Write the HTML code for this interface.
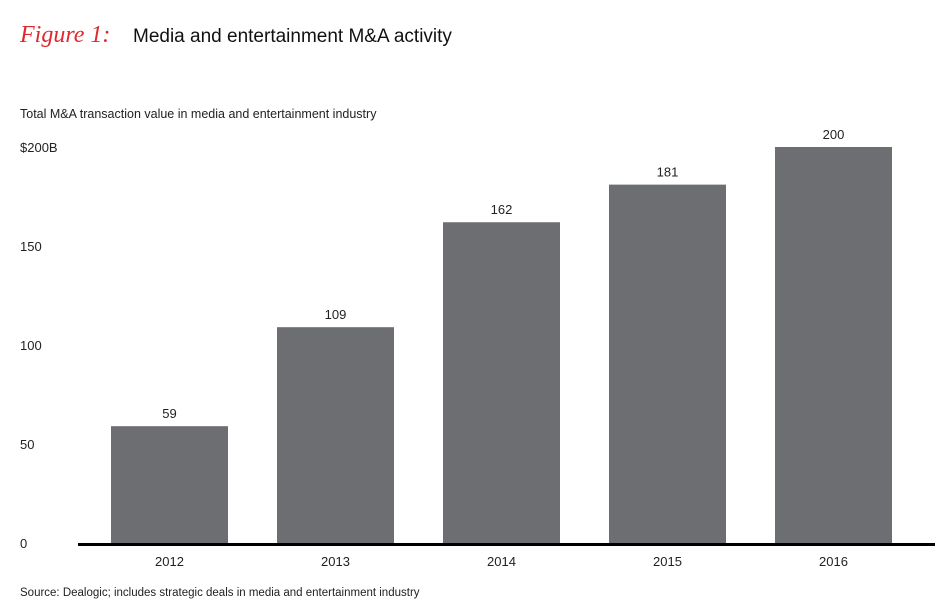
<!DOCTYPE html>
<html><head><meta charset="utf-8"><style>
html,body{margin:0;padding:0;background:#fff;width:950px;height:616px;overflow:hidden;font-family:"Liberation Sans",sans-serif;}
</style></head><body>
<svg width="950" height="616" xmlns="http://www.w3.org/2000/svg" id="chart">
<text x="20" y="42" font-family="Liberation Serif,serif" font-style="italic" font-size="24" fill="#e0282e">Figure 1:</text>
<text x="133" y="42" font-size="19" fill="#111">Media and entertainment M&amp;A activity</text>
<text x="20" y="118" font-size="12.5" fill="#222">Total M&amp;A transaction value in media and entertainment industry</text>
<text x="20" y="596" font-size="11.5" fill="#222">Source: Dealogic; includes strategic deals in media and entertainment industry</text>
<g id="ticks"></g><g id="bars"></g>
<line x1="78" y1="544.5" x2="935" y2="544.5" stroke="#000" stroke-width="3"/>
</svg>
<script>
const categories=["2012","2013","2014","2015","2016"];
const values=[59,109,162,181,200];
const tickValues=[0,50,100,150,200];
const tickLabels=["0","50","100","150","$200B"];
const NS="http://www.w3.org/2000/svg";
function y(v){return 543-v*(543-147)/200;}
function x(i){return 111+i*166;}
const bw=117;
const tg=document.getElementById('ticks'),bg=document.getElementById('bars');
tickValues.forEach((t,i)=>{
 const el=document.createElementNS(NS,'text');
 
 
 el.setAttribute('x',20);el.setAttribute('y',y(t)+5);
 el.setAttribute('font-size','13');el.setAttribute('fill','#222');
 el.textContent=tickLabels[i];tg.appendChild(el);
});
categories.forEach((c,i)=>{
 const r=document.createElementNS(NS,'rect');
 
 
 r.setAttribute('x',x(i));r.setAttribute('y',y(values[i]));
 r.setAttribute('width',bw);r.setAttribute('height',543-y(values[i]));
 r.setAttribute('fill','#6d6e71');bg.appendChild(r);
 const v=document.createElementNS(NS,'text');
 
 
 v.setAttribute('x',x(i)+bw/2);v.setAttribute('y',y(values[i])-8);
 v.setAttribute('text-anchor','middle');v.setAttribute('font-size','13');v.setAttribute('fill','#222');
 v.textContent=values[i];bg.appendChild(v);
 const l=document.createElementNS(NS,'text');
 
 
 l.setAttribute('x',x(i)+bw/2);l.setAttribute('y',566);
 l.setAttribute('text-anchor','middle');l.setAttribute('font-size','13');l.setAttribute('fill','#222');
 l.textContent=c;bg.appendChild(l);
});
</script>
</body></html>
